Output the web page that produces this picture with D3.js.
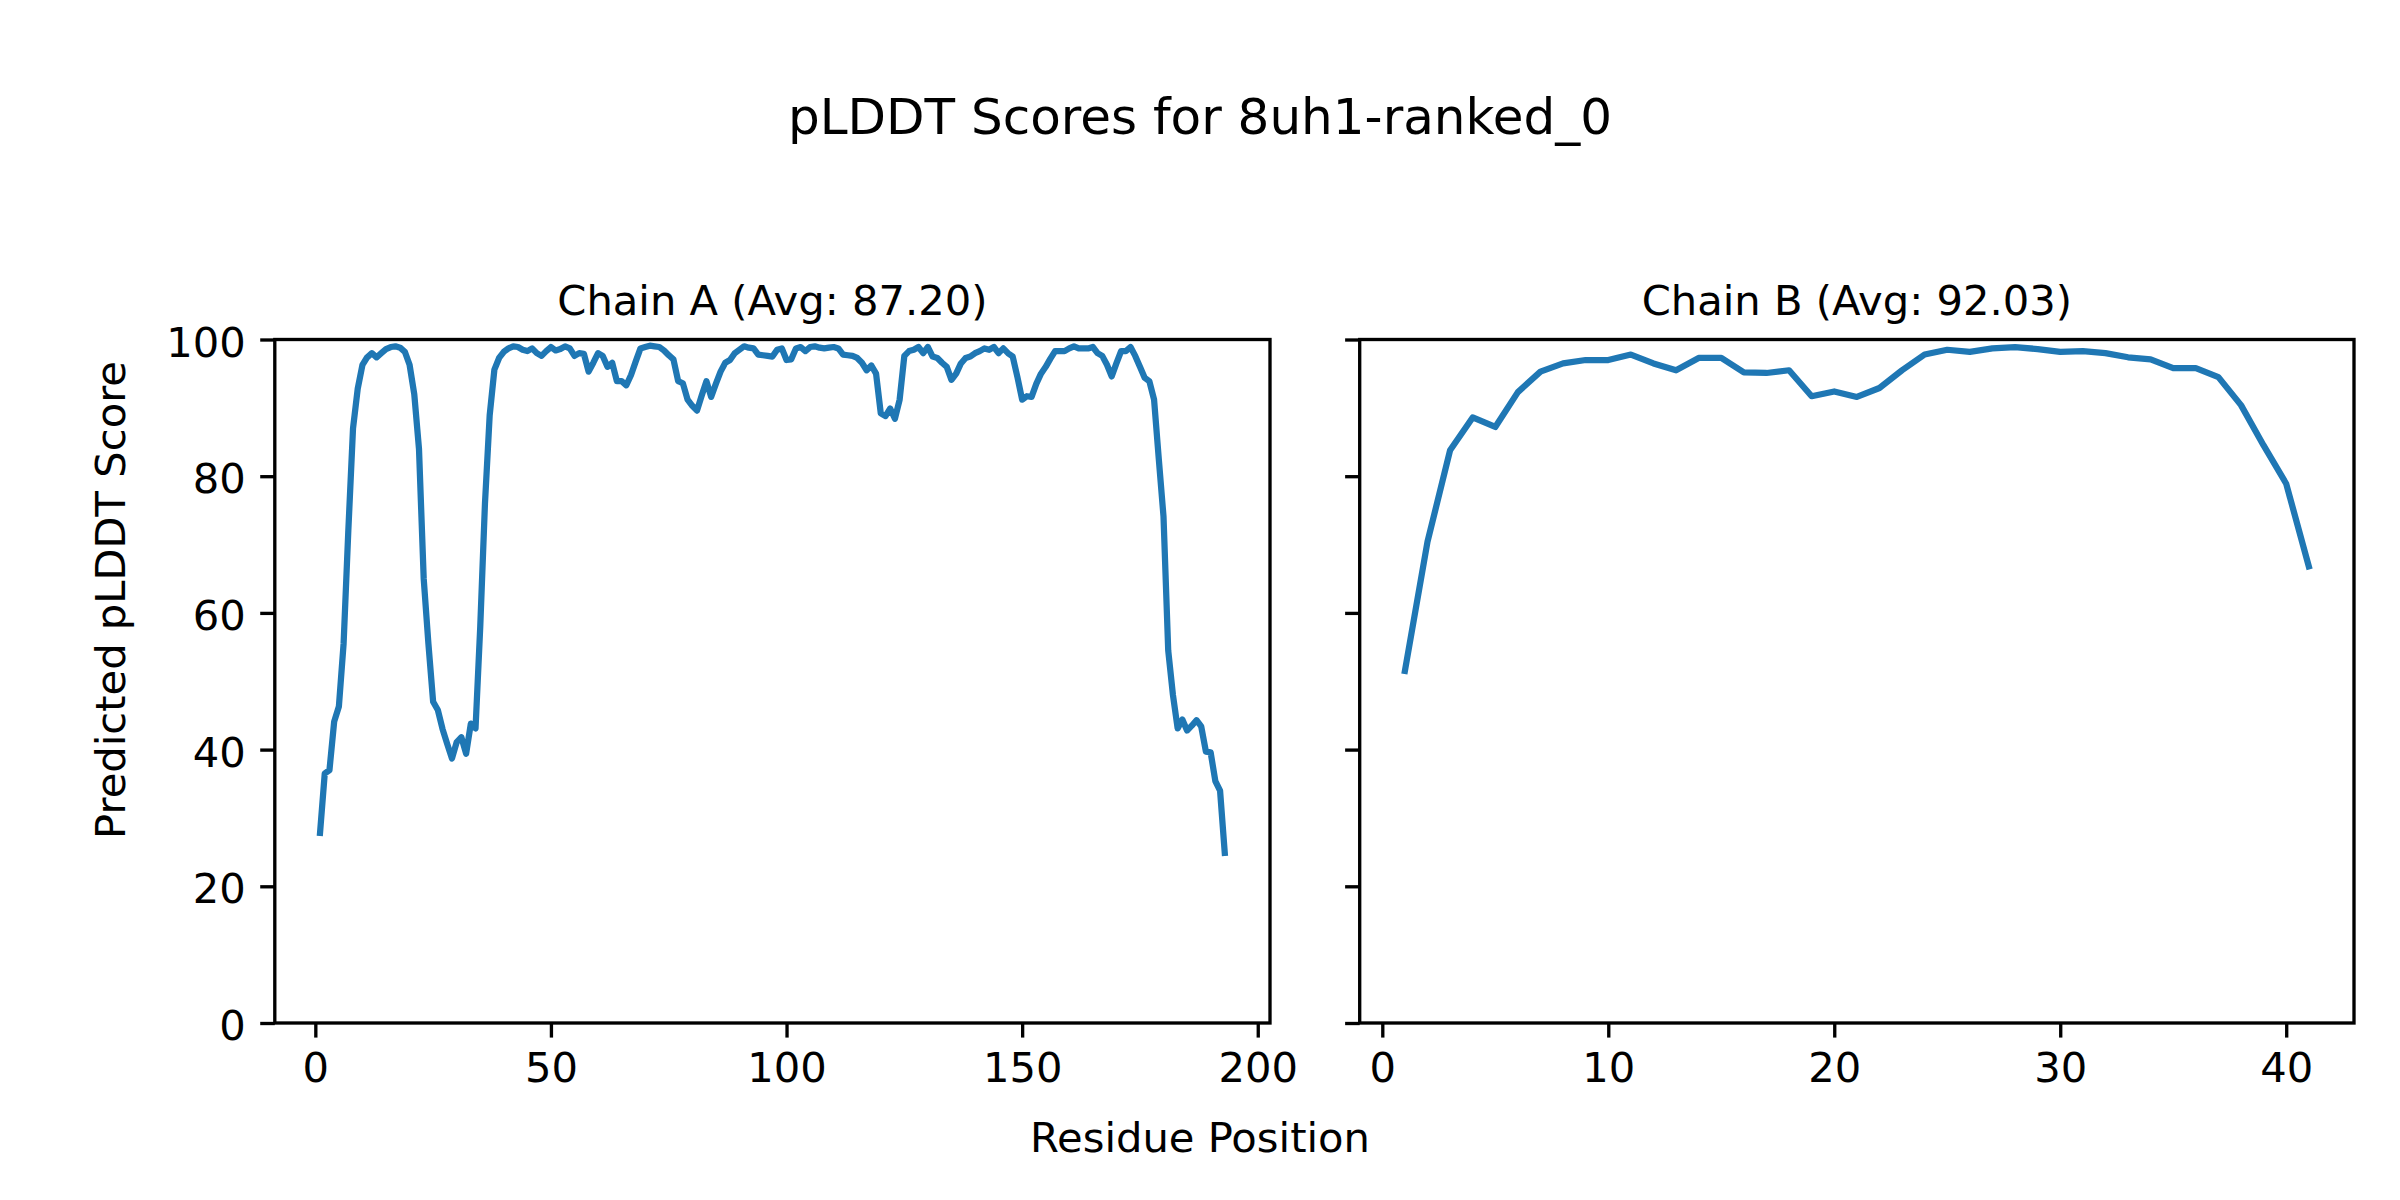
<!DOCTYPE html>
<html>
<head>
<meta charset="utf-8">
<script src="https://cdn.jsdelivr.net/npm/d3@7"></script>
<style>
  body { margin: 0; background: #fff; }
  svg { display: block; font-family: "DejaVu Sans", sans-serif; }
</style>
</head>
<body>
<svg id="chart" width="2400" height="1200"></svg>
<script>
// pLDDT per residue
const chainAScores = [
  27.8, 36.5, 37.0, 44.1, 46.3, 55.5, 72.0, 87.0, 92.8, 96.3,
  97.4, 98.0, 97.4, 98.0, 98.6, 98.9, 99.0, 98.8, 98.2, 96.3,
  92.0, 84.0, 65.0, 55.5, 47.0, 45.8, 43.0, 40.8, 38.7, 41.1,
  41.8, 39.4, 43.8, 43.1, 58.0, 76.0, 88.9, 95.6, 97.3, 98.2,
  98.7, 99.0, 98.9, 98.5, 98.3, 98.7, 98.0, 97.6, 98.3, 98.9,
  98.4, 98.6, 99.0, 98.7, 97.6, 98.0, 97.9, 95.3, 96.6, 98.0,
  97.6, 96.0, 96.6, 93.9, 93.9, 93.3, 94.8, 96.8, 98.7, 98.9,
  99.1, 99.0, 98.9, 98.4, 97.7, 97.1, 93.9, 93.6, 91.2, 90.3,
  89.6, 91.8, 93.9, 91.6, 93.5, 95.3, 96.6, 97.0, 98.0, 98.5,
  99.0, 98.8, 98.7, 97.8, 97.7, 97.6, 97.5, 98.5, 98.7, 97.0,
  97.1, 98.7, 98.9, 98.3, 98.9, 99.0, 98.8, 98.7, 98.8, 98.9,
  98.7, 97.8, 97.7, 97.6, 97.3, 96.6, 95.5, 96.2, 95.0, 89.2,
  88.8, 89.9, 88.4, 91.2, 97.6, 98.3, 98.5, 98.9, 98.0, 98.9,
  97.5, 97.3, 96.6, 96.0, 94.1, 95.0, 96.5, 97.3, 97.5, 98.0,
  98.3, 98.7, 98.5, 98.9, 98.0, 98.7, 98.0, 97.5, 94.5, 91.2,
  91.7, 91.6, 93.5, 95.0, 96.0, 97.2, 98.3, 98.3, 98.3, 98.7,
  99.0, 98.7, 98.7, 98.7, 98.9, 98.0, 97.6, 96.3, 94.6, 96.5,
  98.3, 98.3, 98.9, 97.6, 96.0, 94.4, 93.9, 91.2, 82.5, 74.1,
  54.5, 48.0, 43.1, 44.4, 42.8, 43.5, 44.3, 43.4, 39.7, 39.6,
  35.4, 34.0, 24.9
];

const chainBScores = [
  51.5, 70.4, 83.8, 88.6, 87.2, 92.3, 95.3, 96.5, 97.0, 97.0,
  97.8, 96.5, 95.5, 97.3, 97.3, 95.2, 95.1, 95.5, 91.7, 92.4,
  91.6, 92.9, 95.5, 97.8, 98.5, 98.2, 98.7, 98.9, 98.6, 98.2,
  98.3, 98.0, 97.4, 97.1, 95.8, 95.8, 94.5, 90.4, 84.5, 78.9,
  66.8
];

const chainNames = ['A', 'B'];
const chainAverages = ['87.20', '92.03'];
const xTicksA = [0, 50, 100, 150, 200];
const xTicksB = [0, 10, 20, 30, 40];
const yTicks = [0, 20, 40, 60, 80, 100];

const figTitle = 'pLDDT Scores for 8uh1-ranked_0';
const xLabel = 'Residue Position';
const yLabel = 'Predicted pLDDT Score';

// 8x4 in figure at 300 dpi -> 1pt = 300/72 px
const PT = 300 / 72;
const FONT = 10 * PT;
const TICK_LEN = 3.5 * PT;
const TICK_PAD = 3.5 * PT;
const SPINE_W = 0.8 * PT;
const LINE_COLOR = '#1f77b4';

const panels = [
  { scores: chainAScores, ticks: xTicksA, left: 274.8, right: 1270, showY: true },
  { scores: chainBScores, ticks: xTicksB, left: 1359.7, right: 2354, showY: false }
];
const plotTop = 339.5, plotBottom = 1023;

const svg = d3.select('#chart');
svg.append('rect').attr('width', 2400).attr('height', 1200).attr('fill', '#fff');

const y = d3.scaleLinear().domain([0, 100]).range([plotBottom, plotTop]);

panels.forEach((p, i) => {
  const data = p.scores.map((v, k) => ({ pos: k + 1, score: v }));
  const n = data.length;
  const margin = (n - 1) * 0.05;
  const x = d3.scaleLinear()
    .domain([1 - margin, n + margin])
    .range([p.left, p.right]);

  const g = svg.append('g');

  // line
  const line = d3.line().x(d => x(d.pos)).y(d => y(d.score));
  g.append('path')
    .datum(data)
    .attr('d', line)
    .attr('fill', 'none')
    .attr('stroke', LINE_COLOR)
    .attr('stroke-width', 1.5 * PT)
    .attr('stroke-linejoin', 'round')
    .attr('stroke-linecap', 'square');

  // x axis
  const xAxis = g.append('g')
    .attr('transform', `translate(0,${plotBottom})`)
    .call(d3.axisBottom(x).tickValues(p.ticks).tickSize(TICK_LEN)
      .tickPadding(TICK_PAD).tickSizeOuter(0));

  // y axis (labels only on the first panel)
  const yAxis = g.append('g')
    .attr('transform', `translate(${p.left},0)`)
    .call(d3.axisLeft(y).tickValues(yTicks).tickSize(TICK_LEN)
      .tickPadding(TICK_PAD).tickSizeOuter(0)
      .tickFormat(p.showY ? d3.format('d') : () => ''));

  [xAxis, yAxis].forEach(ax => {
    ax.select('.domain').remove();
    ax.selectAll('line').attr('stroke', '#000').attr('stroke-width', SPINE_W);
    ax.selectAll('text')
      .attr('fill', '#000')
      .style('font-family', '"DejaVu Sans", sans-serif')
      .style('font-size', FONT + 'px');
  });
  yAxis.selectAll('text').attr('dy', '0.40em');

  // frame
  g.append('rect')
    .attr('x', p.left).attr('y', plotTop)
    .attr('width', p.right - p.left).attr('height', plotBottom - plotTop)
    .attr('fill', 'none')
    .attr('stroke', '#000')
    .attr('stroke-width', SPINE_W);

  // panel title
  g.append('text')
    .attr('x', (p.left + p.right) / 2)
    .attr('y', plotTop - 6 * PT)
    .attr('text-anchor', 'middle')
    .style('font-size', FONT + 'px')
    .text(`Chain ${chainNames[i]} (Avg: ${chainAverages[i]})`);
});

// figure title and shared labels
svg.append('text')
  .attr('x', 1200).attr('y', 133.5)
  .attr('text-anchor', 'middle')
  .style('font-size', (12 * PT) + 'px')
  .text(figTitle);

svg.append('text')
  .attr('x', 1200).attr('y', 1152)
  .attr('text-anchor', 'middle')
  .style('font-size', FONT + 'px')
  .text(xLabel);

svg.append('text')
  .attr('transform', 'translate(125,600) rotate(-90)')
  .attr('text-anchor', 'middle')
  .style('font-size', FONT + 'px')
  .text(yLabel);
</script>
</body>
</html>
